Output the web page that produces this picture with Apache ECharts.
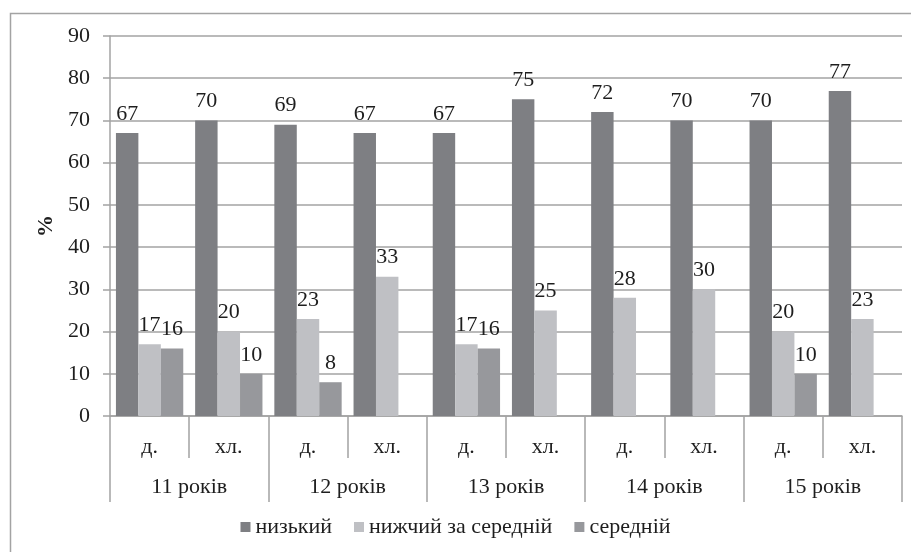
<!DOCTYPE html>
<html>
<head>
<meta charset="utf-8">
<script src="https://cdn.jsdelivr.net/npm/echarts@6/dist/echarts.min.js"></script>
<style>
  html, body { margin: 0; padding: 0; background: #fff; }
  #chart { width: 911px; height: 552px; }
</style>
</head>
<body>
<div id="chart"></div>
<script>
// Sub-categories (girls / boys) and their age groups
const subCategories = ['д.', 'хл.', 'д.', 'хл.', 'д.', 'хл.', 'д.', 'хл.', 'д.', 'хл.'];
const ageGroups = ['11 років', '12 років', '13 років', '14 років', '15 років'];
const yTicks = [0, 10, 20, 30, 40, 50, 60, 70, 80, 90];

// Series values, %
const seriesNames = ['низький', 'нижчий за середній', 'середній'];
const lowValues = [67, 70, 69, 67, 67, 75, 72, 70, 70, 77];
const belowAvgValues = [17, 20, 23, 33, 17, 25, 28, 30, 20, 23];
const avgValues = [16, 10, 8, null, 16, null, null, null, 10, null];

const seriesColors = ['#7e7f83', '#bfc0c4', '#97989c'];
const FONT = '"Liberation Serif", "Times New Roman", serif';
const FS = 22;
const TEXT = '#1e1e1e';
const LINE = '#a3a3a3';

const chart = echarts.init(document.getElementById('chart'), null, { renderer: 'canvas' });

function barSeries(name, values, color) {
  return {
    name: name,
    type: 'bar',
    xAxisIndex: 0,
    data: values,
    barGap: '0%',
    barCategoryGap: '15%',
    itemStyle: { color: color },
    label: {
      show: true,
      position: 'top',
      distance: 8,
      color: TEXT,
      fontFamily: FONT,
      fontSize: FS
    },
    emphasis: { disabled: true }
  };
}

chart.setOption({
  animation: false,
  backgroundColor: '#fff',
  graphic: [{
    type: 'rect',
    shape: { x: 10.5, y: 13.5, width: 905, height: 545 },
    style: { fill: 'none', stroke: LINE, lineWidth: 1.5 },
    silent: true
  }],
  grid: { left: 110, right: 9, top: 36, bottom: 136 },
  legend: {
    bottom: 9,
    left: 'center',
    itemWidth: 10,
    itemHeight: 10,
    itemGap: 22,
    icon: 'rect',
    textStyle: { fontFamily: FONT, fontSize: FS, color: TEXT },
    data: seriesNames
  },
  xAxis: [
    {
      type: 'category',
      data: subCategories,
      position: 'bottom',
      axisLine: { show: true, lineStyle: { color: LINE, width: 1.5 } },
      axisTick: { show: true, interval: 0, length: 42, lineStyle: { color: LINE, width: 1.5 } },
      axisLabel: { interval: 0, margin: 20, color: TEXT, fontFamily: FONT, fontSize: FS }
    },
    {
      type: 'category',
      data: ageGroups,
      position: 'bottom',
      axisLine: { show: false },
      axisTick: { show: true, interval: 0, length: 86, lineStyle: { color: LINE, width: 1.5 } },
      axisLabel: { interval: 0, margin: 60, color: TEXT, fontFamily: FONT, fontSize: FS }
    }
  ],
  yAxis: {
    type: 'value',
    min: yTicks[0],
    max: yTicks[yTicks.length - 1],
    interval: 10,
    name: '%',
    nameLocation: 'middle',
    nameGap: 51,
    nameRotate: 90,
    nameTextStyle: { fontFamily: FONT, fontSize: FS, fontWeight: 'bold', color: TEXT },
    axisLine: { show: true, lineStyle: { color: LINE, width: 1.5 } },
    axisTick: { show: true, length: 7, lineStyle: { color: LINE, width: 1.5 } },
    axisLabel: { margin: 20, color: TEXT, fontFamily: FONT, fontSize: FS },
    splitLine: { show: true, lineStyle: { color: LINE, width: 1.5 } }
  },
  series: [
    barSeries(seriesNames[0], lowValues, seriesColors[0]),
    barSeries(seriesNames[1], belowAvgValues, seriesColors[1]),
    barSeries(seriesNames[2], avgValues, seriesColors[2])
  ]
});
</script>
</body>
</html>
